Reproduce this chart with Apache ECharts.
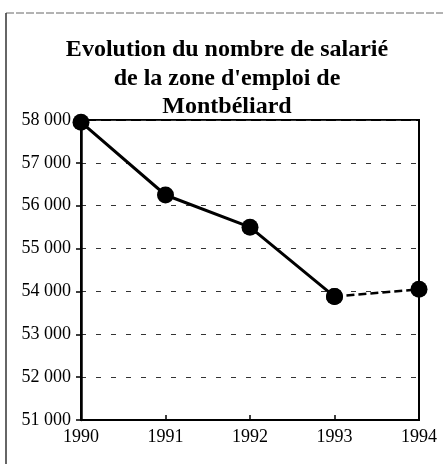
<!DOCTYPE html>
<html>
<head>
<meta charset="utf-8">
<script src="https://cdn.jsdelivr.net/npm/echarts@6/dist/echarts.min.js"></script>
<style>
  html, body { margin: 0; padding: 0; background: #fff; }
  #chart { width: 443px; height: 464px; }
</style>
</head>
<body>
<div id="chart"></div>
<script>
// données
var annees = ['1990', '1991', '1992', '1993', '1994'];
// 1990-1993 trait plein, 1993-1994 en pointillé (estimation)
var salariesReel = [57950, 56250, 55500, 53880, null];
var salariesEstim = [null, null, null, 53880, 54050];
var titre = "Evolution du nombre de salarié\nde la zone d'emploi de\nMontbéliard";

var police = '"Liberation Serif", "Times New Roman", serif';

var myChart = echarts.init(document.getElementById('chart'));

var option = {
  backgroundColor: '#fff',
  animation: false,
  title: {
    text: titre,
    left: 222,
    textAlign: 'center',
    top: 31,
    textStyle: {
      fontFamily: police,
      fontWeight: 'bold',
      fontSize: 24,
      lineHeight: 28.5,
      color: '#000'
    }
  },
  graphic: [
    { type: 'line', shape: { x1: 6, y1: 13, x2: 443, y2: 13 },
      style: { stroke: '#666', lineWidth: 1, lineDash: [8, 2] } },
    { type: 'line', shape: { x1: 6, y1: 13, x2: 6, y2: 464 },
      style: { stroke: '#333', lineWidth: 1.5 } }
  ],
  grid: {
    left: 81,
    right: 24,
    top: 120,
    bottom: 44,
    show: true,
    borderColor: '#000',
    borderWidth: 2,
    backgroundColor: 'transparent'
  },
  xAxis: {
    type: 'category',
    data: annees,
    boundaryGap: false,
    axisLine: { lineStyle: { color: '#000', width: 2 } },
    axisTick: { show: true, inside: true, length: 5, lineStyle: { color: '#000', width: 1.5 } },
    axisLabel: {
      fontFamily: police,
      fontSize: 18,
      color: '#000',
      margin: 8
    },
    splitLine: { show: false }
  },
  yAxis: {
    type: 'value',
    min: 51000,
    max: 58000,
    interval: 1000,
    axisLine: { show: true, lineStyle: { color: '#000', width: 2.5 } },
    axisTick: { show: true, length: 5, lineStyle: { color: '#000', width: 1.5 } },
    axisLabel: {
      fontFamily: police,
      fontSize: 18,
      color: '#000',
      margin: 10,
      formatter: function (v) {
        return String(v).replace(/\B(?=(\d{3})+(?!\d))/g, ' ');
      }
    },
    splitLine: {
      show: true,
      lineStyle: { color: '#333', width: 1, type: [5, 10] }
    }
  },
  series: [
    {
      name: 'salariés',
      type: 'line',
      data: salariesReel,
      symbol: 'circle',
      symbolSize: 17,
      itemStyle: { color: '#000' },
      lineStyle: { color: '#000', width: 3 },
      z: 3
    },
    {
      name: 'estimation',
      type: 'line',
      data: salariesEstim,
      symbol: 'circle',
      symbolSize: 17,
      itemStyle: { color: '#000' },
      lineStyle: { color: '#000', width: 2.5, type: [8, 4] },
      z: 3
    }
  ]
};

myChart.setOption(option);
window.onresize = myChart.resize;
</script>
</body>
</html>
